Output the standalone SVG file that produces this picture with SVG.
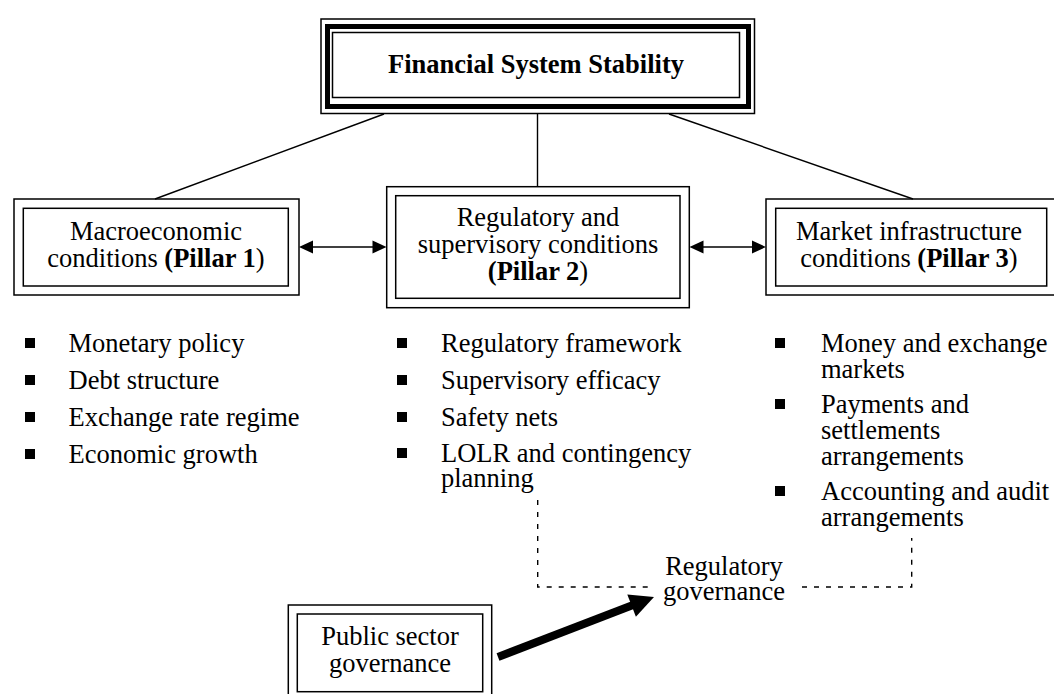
<svg xmlns="http://www.w3.org/2000/svg" width="1054" height="694" viewBox="0 0 1054 694">
<style>
  text { font-family: "Liberation Serif", "Times New Roman", serif; font-size: 26.5px; fill: #000; }
  .c { text-anchor: middle; }
  .b { font-weight: bold; }
  .box { fill: none; stroke: #000; stroke-width: 1.5; }
  .ln { fill: none; stroke: #000; stroke-width: 1.4; }
  .dash { fill: none; stroke: #000; stroke-width: 1.4; stroke-dasharray: 5 7; }
  .blt { fill: #000; }
</style>
<rect width="1054" height="694" fill="#fff"/>

<g id="connectors">
  <line class="ln" x1="384" y1="114" x2="155" y2="199"/>
  <line class="ln" x1="537.5" y1="114" x2="537.5" y2="187"/>
  <line class="ln" x1="669" y1="114" x2="913" y2="199"/>
  <line class="ln" x1="310" y1="247" x2="375" y2="247"/>
  <polygon points="299,247 313,240.5 313,253.5"/>
  <polygon points="386.5,247 372.5,240.5 372.5,253.5"/>
  <line class="ln" x1="700" y1="247" x2="755" y2="247"/>
  <polygon points="689.5,247 703.5,240.5 703.5,253.5"/>
  <polygon points="766,247 752,240.5 752,253.5"/>
  <polyline class="dash" points="537.7,500 537.7,587 648,587"/>
  <polyline class="dash" points="802,587 911.7,587 911.7,538"/>
  <line x1="498" y1="657" x2="633" y2="605" stroke="#000" stroke-width="8"/>
  <polygon points="654,597 627.3,594.4 635.9,616.8"/>
</g>

<g id="node-fss">
  <rect class="box" x="321" y="19" width="433.5" height="94.5"/>
  <rect x="327.5" y="26.5" width="421" height="80" fill="none" stroke="#000" stroke-width="5"/>
  <rect class="box" x="332.5" y="32.5" width="407" height="65"/>
  <text class="c b" x="536" y="73">Financial System Stability</text>
</g>

<g id="node-pillar1">
  <rect class="box" x="14" y="199" width="285" height="96"/>
  <rect class="box" x="23.3" y="208.3" width="265" height="77.7"/>
  <text class="c" x="156" y="240">Macroeconomic</text>
  <text class="c" x="156" y="267">conditions <tspan class="b">(Pillar 1</tspan>)</text>
</g>

<g id="node-pillar2">
  <rect class="box" x="386.7" y="186.7" width="302.6" height="121"/>
  <rect class="box" x="395.7" y="195.7" width="284.3" height="102.6"/>
  <text class="c" x="538" y="226">Regulatory and</text>
  <text class="c" x="538" y="253">supervisory conditions</text>
  <text class="c b" x="538" y="279.5">(Pillar 2<tspan font-weight="normal">)</tspan></text>
</g>

<g id="node-pillar3">
  <rect class="box" x="766" y="199" width="300" height="96"/>
  <rect class="box" x="775.7" y="208.3" width="271" height="77.7"/>
  <text class="c" x="909" y="240">Market infrastructure</text>
  <text class="c" x="909" y="267">conditions <tspan class="b">(Pillar 3</tspan>)</text>
</g>

<g id="list-pillar1">
  <rect class="blt" x="25" y="338" width="10" height="10"/>
  <text x="68.5" y="352">Monetary policy</text>
  <rect class="blt" x="25" y="375" width="10" height="10"/>
  <text x="68.5" y="389">Debt structure</text>
  <rect class="blt" x="25" y="412" width="10" height="10"/>
  <text x="68.5" y="426">Exchange rate regime</text>
  <rect class="blt" x="25" y="449" width="10" height="10"/>
  <text x="68.5" y="463">Economic growth</text>
</g>

<g id="list-pillar2">
  <rect class="blt" x="397" y="338" width="10" height="10"/>
  <text x="441" y="352">Regulatory framework</text>
  <rect class="blt" x="397" y="375" width="10" height="10"/>
  <text x="441" y="389">Supervisory efficacy</text>
  <rect class="blt" x="397" y="412" width="10" height="10"/>
  <text x="441" y="426">Safety nets</text>
  <rect class="blt" x="397" y="448" width="10" height="10"/>
  <text x="441" y="462">LOLR and contingency</text>
  <text x="441" y="487">planning</text>
</g>

<g id="list-pillar3">
  <rect class="blt" x="775" y="338" width="10" height="10"/>
  <text x="821" y="352">Money and exchange</text>
  <text x="821" y="378">markets</text>
  <rect class="blt" x="775" y="399" width="10" height="10"/>
  <text x="821" y="413">Payments and</text>
  <text x="821" y="439">settlements</text>
  <text x="821" y="465">arrangements</text>
  <rect class="blt" x="775" y="486" width="10" height="10"/>
  <text x="821" y="500">Accounting and audit</text>
  <text x="821" y="526">arrangements</text>
</g>

<g id="node-regulatory-governance">
  <text class="c" x="724" y="575">Regulatory</text>
  <text class="c" x="724" y="600">governance</text>
</g>

<g id="node-public-sector">
  <rect class="box" x="288.3" y="605" width="203.4" height="100"/>
  <rect class="box" x="297.3" y="614" width="185.4" height="77.7"/>
  <text class="c" x="390" y="645">Public sector</text>
  <text class="c" x="390" y="671.5">governance</text>
</g>
</svg>
